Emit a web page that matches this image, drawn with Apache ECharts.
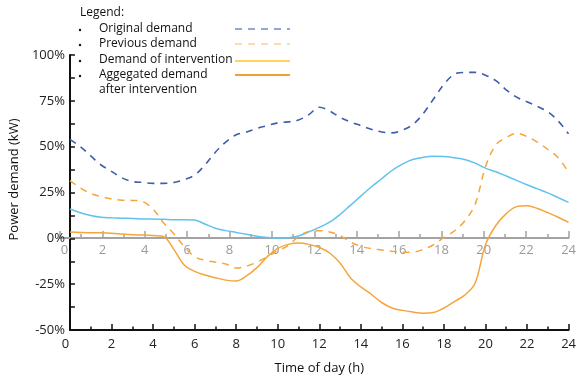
<!DOCTYPE html>
<html>
<head>
<meta charset="utf-8">
<script src="https://cdn.jsdelivr.net/npm/echarts@6/dist/echarts.min.js"></script>
<style>
  html, body { margin: 0; padding: 0; background: #fff; }
  #chart { width: 579px; height: 380px; }
</style>
</head>
<body>
<div id="chart"></div>
<script>
// Time of day (h), half-hour steps
const hours = [0, 0.5, 1, 1.5, 2, 2.5, 3, 3.5, 4, 4.5, 5, 5.5, 6, 6.5, 7, 7.5, 8, 8.5, 9, 9.5,
  10, 10.5, 11, 11.5, 12, 12.5, 13, 13.5, 14, 14.5, 15, 15.5, 16, 16.5, 17, 17.5, 18, 18.5, 19, 19.5,
  20, 20.5, 21, 21.5, 22, 22.5, 23, 23.5, 24];

// Power demand, % of reference
const originalDemand = [54, 50, 45, 40, 36.5, 33, 31, 30.5, 30, 30, 30.5, 32, 34.5, 40, 47, 52.5, 56.5, 58, 60, 61.5,
  63, 63.5, 64.5, 67.5, 71.5, 69.5, 66, 63.5, 61.5, 59.5, 58, 57.5, 59, 62, 68, 76, 84, 89.5, 90.5, 90.5,
  89, 86, 81, 77, 74.5, 72, 69, 64, 57];

const previousDemand = [31.5, 27.5, 24.5, 22.8, 21.5, 20.8, 20.7, 20, 16, 8.5, 2.5, -4.5, -10, -12, -13, -14, -16.2, -15.2, -13, -10,
  -6.8, -4, 1, 3.8, 4.2, 3.5, 1.5, -2, -4.3, -5.6, -6.3, -7, -7.6, -7.5, -6, -3.5, 0.5, 4, 9.5, 18.5,
  39, 51, 55, 57.3, 55.5, 52.5, 48.5, 44, 36];

const interventionDemand = [16, 14, 12.5, 11.5, 11.2, 11, 10.8, 10.6, 10.5, 10.4, 10.2, 10.2, 10, 7.8, 5.5, 4.2, 3.2, 2.2, 1.2, 0.5,
  0.2, 0.3, 1.3, 3.5, 6, 8.8, 13, 18, 23, 28, 32.5, 37, 40.5, 43, 44.2, 44.8, 44.7, 44, 43, 41,
  38.3, 36.3, 34, 31.6, 29.2, 27, 24.8, 22.2, 19.6];

const aggregatedDemand = [3.5, 3.2, 3, 3, 2.8, 2.4, 2, 1.8, 1.5, 1, -6, -14.5, -18, -20, -21.5, -22.8, -23.3, -20.5, -16, -10,
  -5.5, -3.3, -2.5, -3.3, -5, -8, -13.5, -21.5, -26.5, -30.5, -35, -38, -39.3, -40.2, -40.8, -40.5, -38, -34.5, -31, -24.5,
  -3.5, 7, 13.5, 17.3, 17.8, 16.3, 14, 11.5, 8.7];

const legendTitle = 'Legend:';
const legendLabels = ['Original demand', 'Previous demand', 'Demand of intervention', 'Aggegated demand', 'after intervention'];

const FONT = '"Open Sans", "Noto Sans", sans-serif';
const BLUE = '#3d5ea9';
const ORANGE = '#f5a53b';
const SKY = '#5ec3ee';

function pairs(values) {
  return hours.map((h, i) => [h, values[i]]);
}

// The first hour label is rendered through a rich style so it can be nudged
function hourLabel(value) {
  return value === 0 ? '{first|0}' : String(value);
}

const chart = echarts.init(document.getElementById('chart'), null, { renderer: 'canvas' });

const tickBlack = { color: '#111', width: 1.5 };
const tickGray = { color: '#a3a3a3', width: 1.5 };

// Legend block drawn as graphic elements
const legendRowsY = [29, 44, 60, 75, 90];
const legendGraphics = [
  { type: 'text', x: 80, y: 13, style: { text: legendTitle, font: '12px ' + FONT, fill: '#111', verticalAlign: 'middle' } }
];
legendLabels.forEach((label, i) => {
  legendGraphics.push({ type: 'text', x: 99, y: legendRowsY[i], style: { text: label, font: '12px ' + FONT, fill: '#111', verticalAlign: 'middle' } });
  if (i < 4) {
    legendGraphics.push({ type: 'circle', shape: { cx: 80, cy: legendRowsY[i] + 1, r: 1.2 }, style: { fill: '#111' } });
  }
});
const legendSamples = [
  { y: 29, stroke: '#6d8ac6', dash: [7, 6], w: 1.5 },
  { y: 44, stroke: '#fbcf95', dash: [7, 6], w: 1.5 },
  { y: 61, stroke: '#ffc526', dash: null, w: 1.5 },
  { y: 75, stroke: '#f0a132', dash: null, w: 2 }
];
legendSamples.forEach(s => {
  legendGraphics.push({
    type: 'line',
    shape: { x1: 235, y1: s.y, x2: 290, y2: s.y },
    style: { stroke: s.stroke, lineWidth: s.w, lineDash: s.dash || null }
  });
});

const option = {
  animation: false,
  backgroundColor: '#fff',
  grid: [
    { left: 60, right: 9, top: 55, bottom: 50 },
    // upper half of the plot; its bottom edge carries the 0% hour scale
    { left: 60, right: 9, top: 55, height: 183 }
  ],
  xAxis: [
    {
      type: 'value', gridIndex: 0, min: 0, max: 24, interval: 2, position: 'bottom',
      name: 'Time of day (h)', nameLocation: 'middle', nameGap: 32,
      nameTextStyle: { fontFamily: FONT, fontSize: 13, color: '#111' },
      axisLine: { onZero: false, lineStyle: { color: '#111', width: 2 } },
      axisTick: { inside: true, length: 6, lineStyle: tickBlack },
      minorTick: { show: true, splitNumber: 2, length: 3.5, lineStyle: tickBlack },
      axisLabel: { fontFamily: FONT, fontSize: 13, color: '#222', margin: 8, formatter: hourLabel, rich: { first: { padding: [0, 9, 0, 0] } } },
      splitLine: { show: false }
    },
    {
      type: 'value', gridIndex: 1, min: 0, max: 24, interval: 2, position: 'bottom',
      axisLine: { onZero: false, lineStyle: { color: '#a3a3a3', width: 2 } },
      axisTick: { inside: true, length: 7, lineStyle: tickGray },
      minorTick: { show: true, splitNumber: 2, length: 4, lineStyle: tickGray },
      axisLabel: { fontFamily: FONT, fontSize: 13, color: '#9a9a9a', margin: 6, formatter: hourLabel, rich: { first: { padding: [0, 0, 0, 9] } } },
      splitLine: { show: false }
    }
  ],
  yAxis: [
    {
      type: 'value', gridIndex: 0, min: -50, max: 100, interval: 25,
      name: 'Power demand (kW)', nameLocation: 'middle', nameGap: 41,
      nameTextStyle: { fontFamily: FONT, fontSize: 13, color: '#111', padding: [0, 0, 0, 26] },
      axisLine: { show: true, onZero: false, lineStyle: { color: '#111', width: 2 } },
      axisTick: { show: true, inside: true, length: 5, lineStyle: tickBlack },
      minorTick: { show: true, splitNumber: 2, length: 5, lineStyle: tickBlack },
      axisLabel: { formatter: '{value}%', fontFamily: FONT, fontSize: 13, color: '#222', margin: 5 },
      splitLine: { show: false }
    },
    { type: 'value', gridIndex: 1, min: 0, max: 100, show: false }
  ],
  series: [
    {
      name: 'Original demand', type: 'line', smooth: 0.35, showSymbol: false,
      data: pairs(originalDemand),
      lineStyle: { color: BLUE, width: 1.6, type: [7, 6] }
    },
    {
      name: 'Demand of intervention', type: 'line', smooth: 0.35, showSymbol: false,
      data: pairs(interventionDemand),
      lineStyle: { color: SKY, width: 1.5 }
    },
    {
      name: 'Previous demand', type: 'line', smooth: 0.35, showSymbol: false,
      data: pairs(previousDemand),
      lineStyle: { color: ORANGE, width: 1.5, type: [7, 6] }
    },
    {
      name: 'Aggegated demand after intervention', type: 'line', smooth: 0.35, showSymbol: false,
      data: pairs(aggregatedDemand),
      lineStyle: { color: ORANGE, width: 1.5 }
    }
  ],
  graphic: legendGraphics
};

chart.setOption(option);
</script>
</body>
</html>
